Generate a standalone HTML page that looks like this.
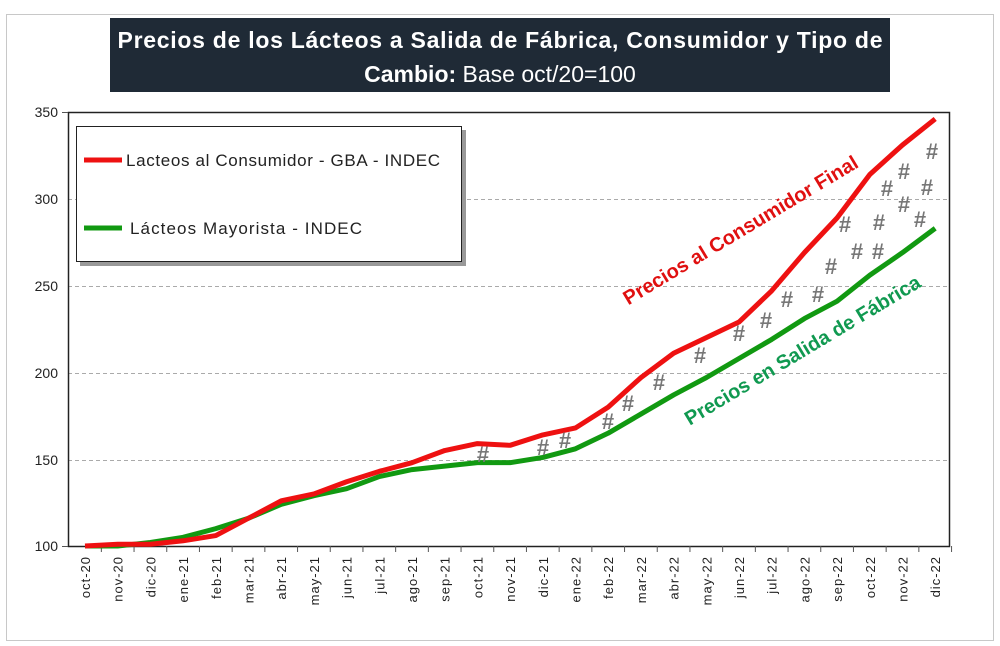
<!DOCTYPE html>
<html><head><meta charset="utf-8"><style>
body{margin:0;background:#fff;}
svg{display:block;font-family:"Liberation Sans",sans-serif;}
</style></head><body>
<svg width="1000" height="646" viewBox="0 0 1000 646">
<rect x="6.5" y="14.5" width="987" height="626" fill="#fff" stroke="#c8c8c8"/>
<rect x="110" y="18" width="780" height="74" fill="#1f2a36"/>
<text x="500" y="48" fill="#fff" font-size="23" font-weight="bold" text-anchor="middle" textLength="765">Precios de los Lácteos a Salida de Fábrica, Consumidor y Tipo de</text>
<text x="500" y="82" fill="#fff" font-size="23" text-anchor="middle"><tspan font-weight="bold">Cambio:</tspan> Base oct/20=100</text>
<g stroke="#aaa" stroke-dasharray="4,3" stroke-width="1">
<line x1="68" y1="199.5" x2="949" y2="199.5"/><line x1="68" y1="286.5" x2="949" y2="286.5"/><line x1="68" y1="373.5" x2="949" y2="373.5"/><line x1="68" y1="460.5" x2="949" y2="460.5"/>
</g>
<rect x="68.5" y="112.5" width="881" height="434" fill="none" stroke="#222" stroke-width="1.5"/>
<g font-size="14" fill="#222" text-anchor="end">
<text x="58" y="117">350</text><text x="58" y="204">300</text><text x="58" y="291">250</text><text x="58" y="378">200</text><text x="58" y="465">150</text><text x="58" y="551">100</text>
</g>
<g stroke="#555"><line x1="62" y1="112.5" x2="68" y2="112.5"/><line x1="62" y1="546.5" x2="68" y2="546.5"/></g>
<g id="xt" font-size="13" fill="#222" letter-spacing="1"></g>
<polyline id="g" fill="none" stroke="#119911" stroke-width="5" stroke-linejoin="round"/>
<polyline id="r" fill="none" stroke="#ee1111" stroke-width="5" stroke-linejoin="round"/>
<g font-size="22" font-weight="bold" fill="#777" text-anchor="middle">
<text x="483" y="462">#</text><text x="543" y="455">#</text><text x="565" y="448">#</text><text x="608" y="429">#</text><text x="628" y="411">#</text><text x="659" y="390">#</text><text x="700" y="363">#</text><text x="739" y="341">#</text><text x="766" y="328">#</text><text x="787" y="307">#</text><text x="818" y="302">#</text><text x="831" y="274">#</text><text x="845" y="232">#</text><text x="857" y="259">#</text><text x="879" y="230">#</text><text x="878" y="259">#</text><text x="887" y="196">#</text><text x="904" y="179">#</text><text x="904" y="212">#</text><text x="920" y="227">#</text><text x="927" y="195">#</text><text x="932" y="159">#</text>
</g>
<text transform="translate(744,236) rotate(-31)" font-size="20" font-weight="bold" fill="#e01010" text-anchor="middle">Precios al Consumidor Final</text>
<text transform="translate(806,356) rotate(-31)" font-size="20" font-weight="bold" fill="#109950" text-anchor="middle">Precios en Salida de Fábrica</text>
<rect x="80" y="130" width="386" height="136" fill="#999"/>
<rect x="76.5" y="126.5" width="385" height="135" fill="#fff" stroke="#222"/>
<line x1="84" y1="160" x2="122" y2="160" stroke="#ee1111" stroke-width="5"/>
<text x="126" y="166" font-size="17" fill="#222" textLength="314">Lacteos al Consumidor - GBA - INDEC</text>
<line x1="84" y1="228" x2="122" y2="228" stroke="#119911" stroke-width="5"/>
<text x="130" y="234" font-size="17" fill="#222" textLength="232">Lácteos Mayorista - INDEC</text>
</svg>
<script>
var labs="oct-20 nov-20 dic-20 ene-21 feb-21 mar-21 abr-21 may-21 jun-21 jul-21 ago-21 sep-21 oct-21 nov-21 dic-21 ene-22 feb-22 mar-22 abr-22 may-22 jun-22 jul-22 ago-22 sep-22 oct-22 nov-22 dic-22".split(" ");
var R=[100,101,101,103,106,116,126,130,137,143,148,155,159,158,164,168,180,197,211,220,229,247,269,289,314,331,346];
var G=[100,100,102,105,110,116,124,129,133,140,144,146,148,148,151,156,165,176,187,197,208,219,231,241,256,269,283];
var ns="http://www.w3.org/2000/svg",xt=document.getElementById("xt");
function X(i){return 85+i*32.7;}function Y(v){return 546-(v-100)*1.736;}
var rp="",gp="";
for(var i=0;i<27;i++){rp+=X(i)+","+Y(R[i])+" ";gp+=X(i)+","+Y(G[i])+" ";
var t=document.createElementNS(ns,"text");t.setAttribute("transform","translate("+(X(i)+5)+",556) rotate(-90)");t.setAttribute("text-anchor","end");t.textContent=labs[i];xt.appendChild(t);
var l=document.createElementNS(ns,"line");var xx=X(i)+16.35;l.setAttribute("x1",xx);l.setAttribute("x2",xx);l.setAttribute("y1",546);l.setAttribute("y2",552);l.setAttribute("stroke","#555");xt.appendChild(l);}
document.getElementById("r").setAttribute("points",rp);document.getElementById("g").setAttribute("points",gp);
</script>
</body></html>
